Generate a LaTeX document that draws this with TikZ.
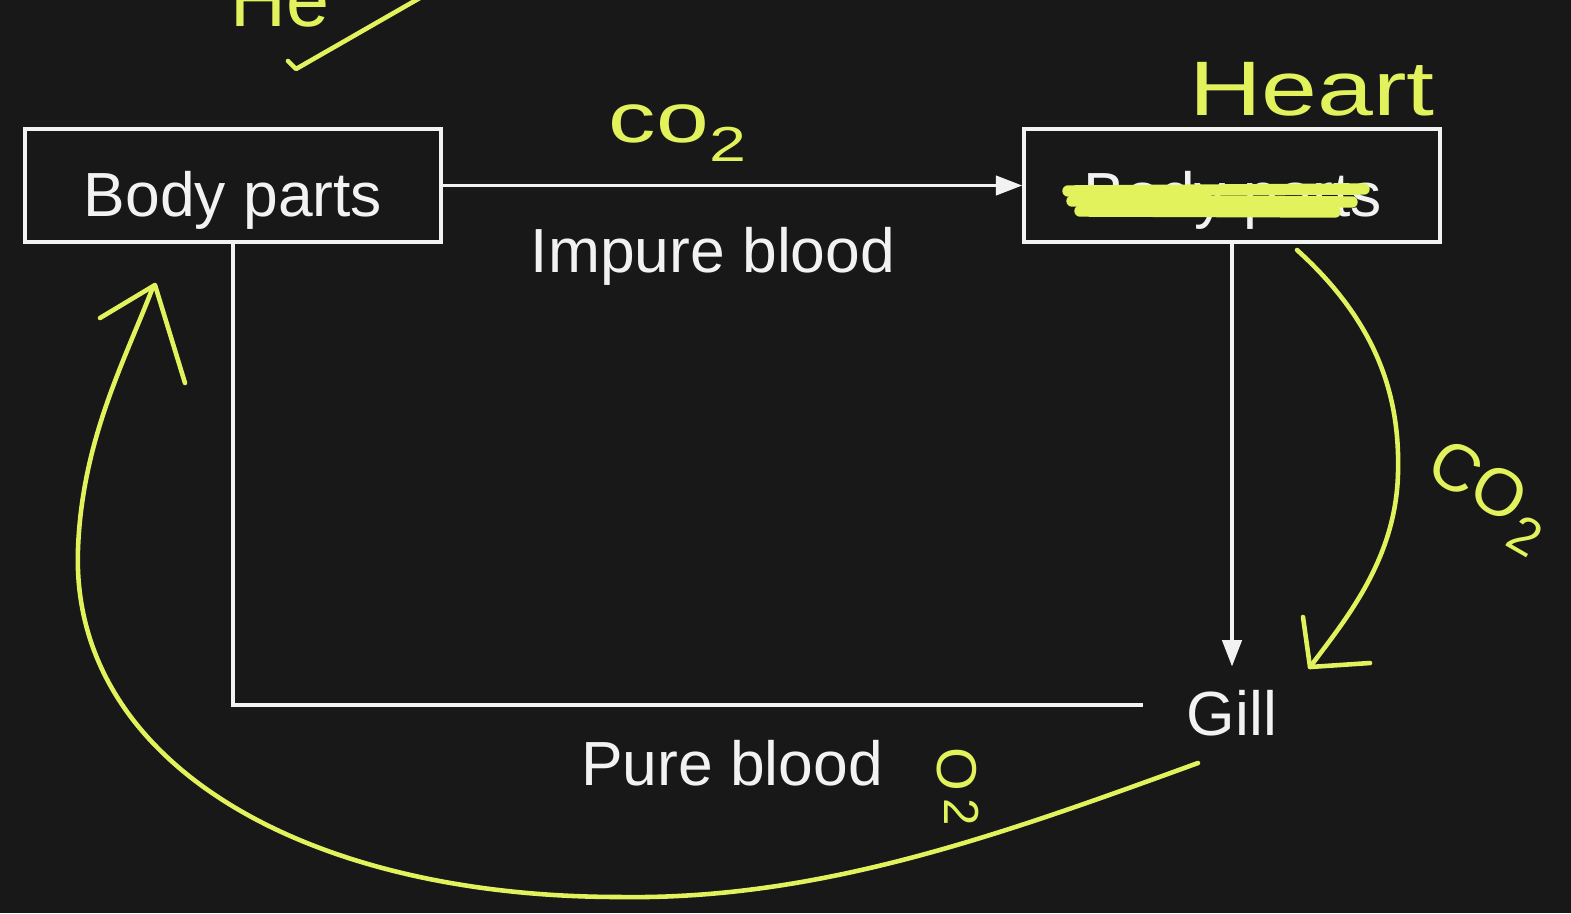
\documentclass[tikz,border=0pt]{standalone}
\usepackage{fontspec}
\setmainfont{Liberation Sans}
\usetikzlibrary{arrows.meta}
\definecolor{board}{RGB}{24,24,24}
\definecolor{chalk}{RGB}{242,242,242}
\definecolor{marker}{RGB}{226,242,92}
\begin{document}
\begin{tikzpicture}[x=0.02cm,y=-0.02cm,
  box/.style={draw=chalk, line width=2.1pt, minimum width=8.32cm, minimum height=2.26cm, inner sep=0pt},
  lbl/.style={text=chalk, font=\fontsize{35.5}{40}\selectfont, inner sep=0pt, anchor=base},
  wire/.style={draw=chalk, line width=1.9pt},
  flow/.style={wire, -{Triangle[length=15pt,width=11pt]}},
  ink/.style={draw=marker, line width=2.6pt, line cap=round, line join=round},
  note/.style={text=marker, inner sep=0pt},
  strike/.style={draw=marker, line width=6.5pt, line cap=round}]
% board
\fill[board] (0,0) rectangle (1571,913);
\useasboundingbox (0,0) rectangle (1571,913);
\clip (0,0) rectangle (1571,913);

% boxes and labels
\node[box] (body) at (233,185.5) {};
\node[box] (heart) at (1232,185.5) {};
\node[lbl] (bodytxt) at (233,216) {Body parts};
\node[lbl] (hearttxt) at (1233,216) {Body parts};
\node[lbl] (impure) at (713,272) {Impure blood};
\node[lbl] (pure) at (732,785) {Pure blood};
\node[lbl, inner xsep=0.9cm, inner ysep=0.46cm] (gill) at (1232,735) {Gill};
\coordinate (join) at (1143,705);

% circulation
\draw[flow] (body.east) -- (heart.west);
\draw[flow] (heart.south) -- (gill.north);
\draw[wire] (body.south) |- (join);

% crossing out on the right box
\draw[strike] (1068,191) -- (1364,189);
\draw[strike] (1072,201) -- (1352,202);
\draw[strike] (1080,211) -- (1335,212);

% marker notes
\node[note, font=\fontsize{44}{48}\selectfont, xscale=1.3, anchor=base] (hearttag) at (1312,115) {Heart};
\node[note, font=\fontsize{40}{46}\selectfont, xscale=1.35] (co2top) at (678,133) {co\textsubscript{2}};
\node[note, font=\fontsize{38}{42}\selectfont, rotate=-30] (co2side) at (1488,497) {CO\kern2pt\raisebox{-0.3em}{\fontsize{30}{32}\selectfont 2}};
\node[note, font=\fontsize{32}{36}\selectfont, rotate=-90] (o2) at (958,787) {O\kern4pt\raisebox{0.12em}{\fontsize{28}{30}\selectfont 2}};
\node[note, font=\fontsize{44}{48}\selectfont, anchor=base west] (topnote) at (230,26) {He};
\draw[ink] (288,61) -- (296,69) -- (425,-5);

% heart to gill
\draw[ink] (1297,250) .. controls (1380,325) and (1400,400) .. (1398,473)
                      .. controls (1396,560) and (1345,620) .. (1310,667);
\draw[ink] (1303,617) -- (1310,667) -- (1370,663);

% gill back to the body
\draw[ink] (1198,763) .. controls (1000,835) and (820,900) .. (620,897)
                      .. controls (300,897) and (70,760) .. (78,549)
                      .. controls (82,440) and (125,360) .. (153,287);
\draw[ink] (100,318) -- (155,285) -- (185,383);
\end{tikzpicture}
\end{document}
